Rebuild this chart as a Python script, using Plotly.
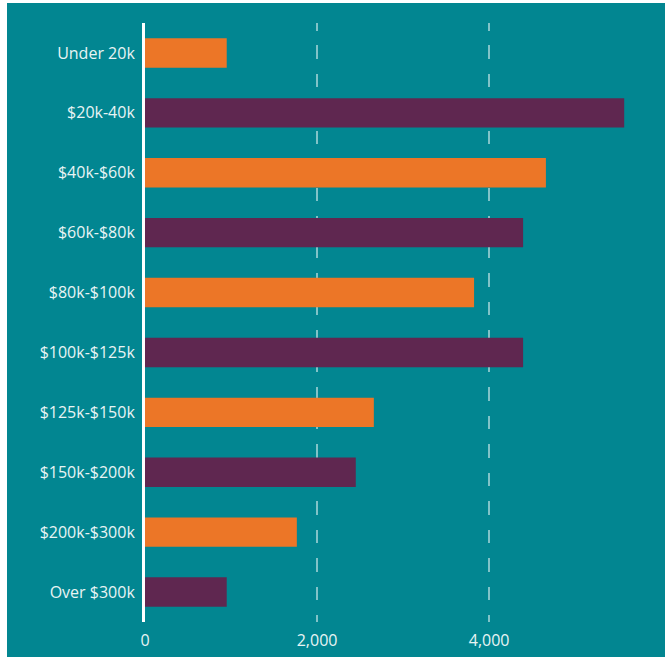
import plotly.graph_objects as go

categories = ["Under 20k", "$20k-40k", "$40k-$60k", "$60k-$80k", "$80k-$100k",
              "$100k-$125k", "$125k-$150k", "$150k-$200k", "$200k-$300k", "Over $300k"]
values = [950, 5570, 4660, 4395, 3825, 4395, 2660, 2450, 1765, 950]
colors = ["#EC7627" if i % 2 == 0 else "#5F2750" for i in range(len(categories))]
x_ticks = [0, 2000, 4000]
x_tick_text = ["0", "2,000", "4,000"]

W, H = 665, 657
L, R, T, B = 145, 15, 23, 35
pw, ph = W - L - R, H - T - B

fig = go.Figure(go.Bar(
    x=values, y=categories, orientation="h",
    marker=dict(color=colors, line=dict(width=0)),
    width=0.49, hoverinfo="x+y",
))

fig.add_shape(type="rect", xref="paper", yref="paper", layer="below",
              x0=(7 - L) / pw, x1=(W - L) / pw,
              y0=(H - B - H) / ph, y1=(H - B - 3) / ph,
              fillcolor="#028691", line=dict(width=0))

dash = "8px,14px," + ",".join(["13.5px,15px"] * 21)

fig.update_layout(
    width=W, height=H,
    margin=dict(l=L, r=R, t=T, b=B, pad=0),
    paper_bgcolor="white", plot_bgcolor="rgba(0,0,0,0)",
    showlegend=False,
    font=dict(family="Open Sans", size=16, color="#e8f4f4"),
    xaxis=dict(range=[0, 5870], tickvals=x_ticks, ticktext=x_tick_text,
               showgrid=True, gridcolor="rgba(255,255,255,0.5)", gridwidth=2,
               griddash=dash, zeroline=False, showline=False,
               ticks="outside", ticklen=4, tickcolor="rgba(0,0,0,0)",
               automargin=False,
               tickfont=dict(size=16, color="#e8f4f4")),
    yaxis=dict(autorange="reversed", showgrid=False, zeroline=False,
               showline=True, linecolor="white", linewidth=3,
               ticks="outside", ticklen=4, tickcolor="rgba(0,0,0,0)",
               automargin=False,
               tickfont=dict(size=16, color="#e8f4f4")),
)

fig.write_html("out.html")
